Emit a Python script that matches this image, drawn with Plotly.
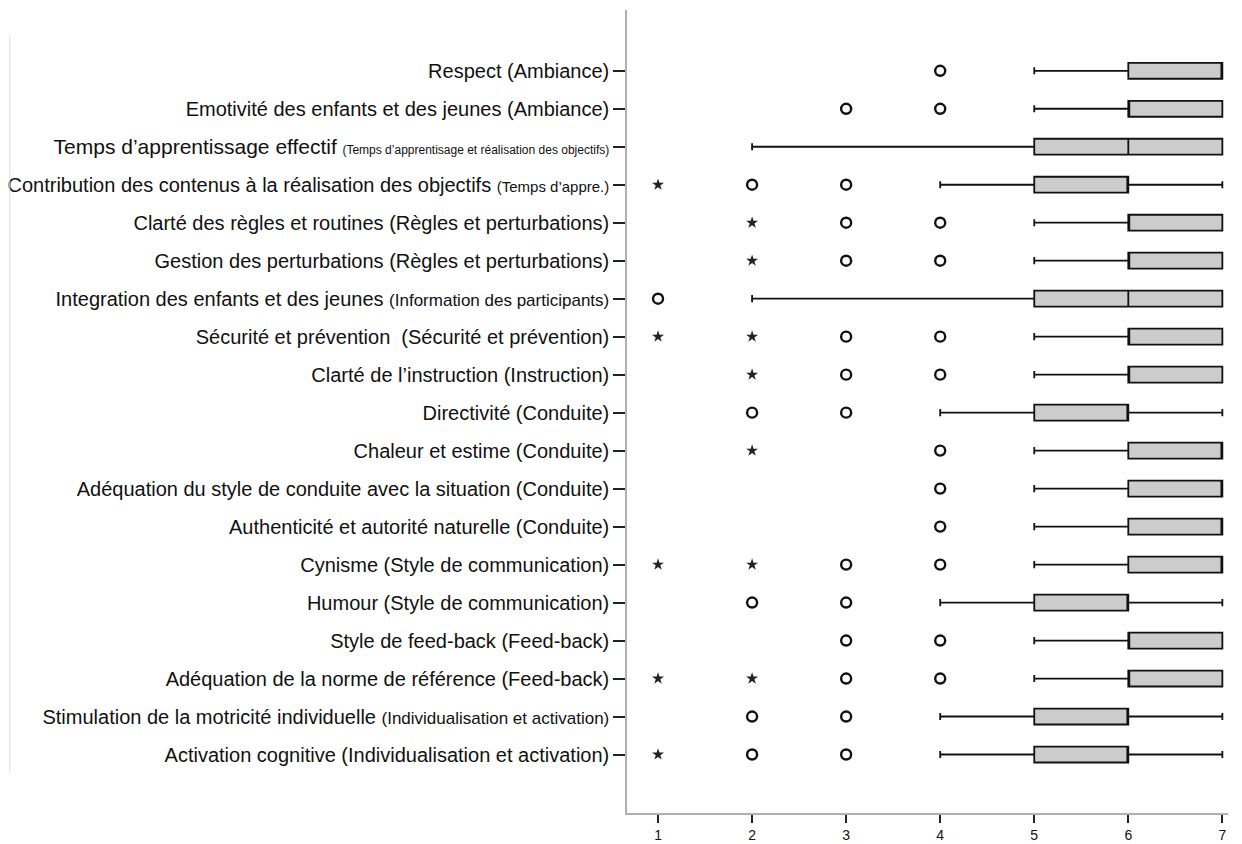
import plotly.graph_objects as go

categories = [
    "Respect (Ambiance)",
    "Emotivité des enfants et des jeunes (Ambiance)",
    "<span style='font-size:21px'>Temps d’apprentissage effectif</span> <span style='font-size:12px'>(Temps d’apprentisage et réalisation des objectifs)</span>",
    "Contribution des contenus à la réalisation des objectifs <span style='font-size:15px'>(Temps d’appre.)</span>",
    "Clarté des règles et routines (Règles et perturbations)",
    "Gestion des perturbations (Règles et perturbations)",
    "Integration des enfants et des jeunes <span style='font-size:17px'>(Information des participants)</span>",
    "Sécurité et prévention  (Sécurité et prévention)",
    "Clarté de l’instruction (Instruction)",
    "Directivité (Conduite)",
    "Chaleur et estime (Conduite)",
    "Adéquation du style de conduite avec la situation (Conduite)",
    "Authenticité et autorité naturelle (Conduite)",
    "Cynisme (Style de communication)",
    "Humour (Style de communication)",
    "Style de feed-back (Feed-back)",
    "Adéquation de la norme de référence (Feed-back)",
    "Stimulation de la motricité individuelle <span style='font-size:17px'>(Individualisation et activation)</span>",
    "Activation cognitive (Individualisation et activation)",
]

lower_whisker = [5, 5, 2, 4, 5, 5, 2, 5, 5, 4, 5, 5, 5, 5, 4, 5, 5, 4, 4]
q1_values     = [6, 6, 5, 5, 6, 6, 5, 6, 6, 5, 6, 6, 6, 6, 5, 6, 6, 5, 5]
median_values = [7, 6, 6, 6, 6, 6, 6, 6, 6, 6, 7, 7, 7, 7, 6, 6, 6, 6, 6]
q3_values     = [7, 7, 7, 6, 7, 7, 7, 7, 7, 6, 7, 7, 7, 7, 6, 7, 7, 6, 6]
upper_whisker = [7, 7, 7, 7, 7, 7, 7, 7, 7, 7, 7, 7, 7, 7, 7, 7, 7, 7, 7]

circle_outliers = [
    [4], [3, 4], [], [2, 3], [3, 4], [3, 4], [1], [3, 4], [3, 4], [2, 3],
    [4], [4], [4], [3, 4], [2, 3], [3, 4], [3, 4], [2, 3], [2, 3],
]
star_outliers = [
    [], [], [], [1], [2], [2], [], [1, 2], [2], [],
    [2], [], [], [1, 2], [], [], [1, 2], [], [1],
]

x_ticks = [1, 2, 3, 4, 5, 6, 7]

positions = list(range(len(categories)))

fig = go.Figure()
fig.add_trace(go.Box(
    y=positions,
    q1=q1_values,
    median=median_values,
    q3=q3_values,
    lowerfence=lower_whisker,
    upperfence=upper_whisker,
    orientation="h",
    boxpoints=False,
    width=0.42,
    whiskerwidth=0.45,
    fillcolor="#cccccc",
    line=dict(color="#111111", width=1.8),
    showlegend=False,
    hoverinfo="skip",
))

cx, cy, sx, sy = [], [], [], []
for i, vals in enumerate(circle_outliers):
    for v in vals:
        cx.append(v); cy.append(i)
for i, vals in enumerate(star_outliers):
    for v in vals:
        sx.append(v); sy.append(i)

fig.add_trace(go.Scatter(
    x=cx, y=cy, mode="markers", showlegend=False,
    marker=dict(symbol="circle-open", size=10, color="#111111", line=dict(width=2.4, color="#111111")),
))
fig.add_trace(go.Scatter(
    x=sx, y=sy, mode="markers", showlegend=False,
    marker=dict(symbol="star", size=9, color="#222222", line=dict(width=0)),
))

fig.add_shape(type="line", xref="paper", yref="paper",
              x0=-1.027, x1=-1.027, y0=0.05, y1=0.969,
              line=dict(color="#e0e0e0", width=1))

fig.update_layout(
    width=1242, height=844,
    paper_bgcolor="white", plot_bgcolor="white",
    margin=dict(l=619, r=22, t=2, b=39),
    font=dict(family="Liberation Sans, Arial", color="#111111"),
    xaxis=dict(
        range=[0.67, 7.06], tickvals=x_ticks, ticktext=[str(t) for t in x_ticks],
        showgrid=False, zeroline=False, showline=True, linecolor="#b0b0b0", linewidth=1.5,
        ticks="outside", ticklen=8, tickwidth=2, tickcolor="#222222",
        tickfont=dict(size=14), automargin=False,
    ),
    yaxis=dict(
        range=[19.54, -1.6], tickvals=positions, ticktext=categories,
        showgrid=False, zeroline=False, showline=True, linecolor="#b0b0b0", linewidth=1.5,
        ticks="outside", ticklen=12, tickwidth=2, tickcolor="#222222",
        tickfont=dict(size=20), automargin=False,
    ),
)

fig.write_html("out.html")
